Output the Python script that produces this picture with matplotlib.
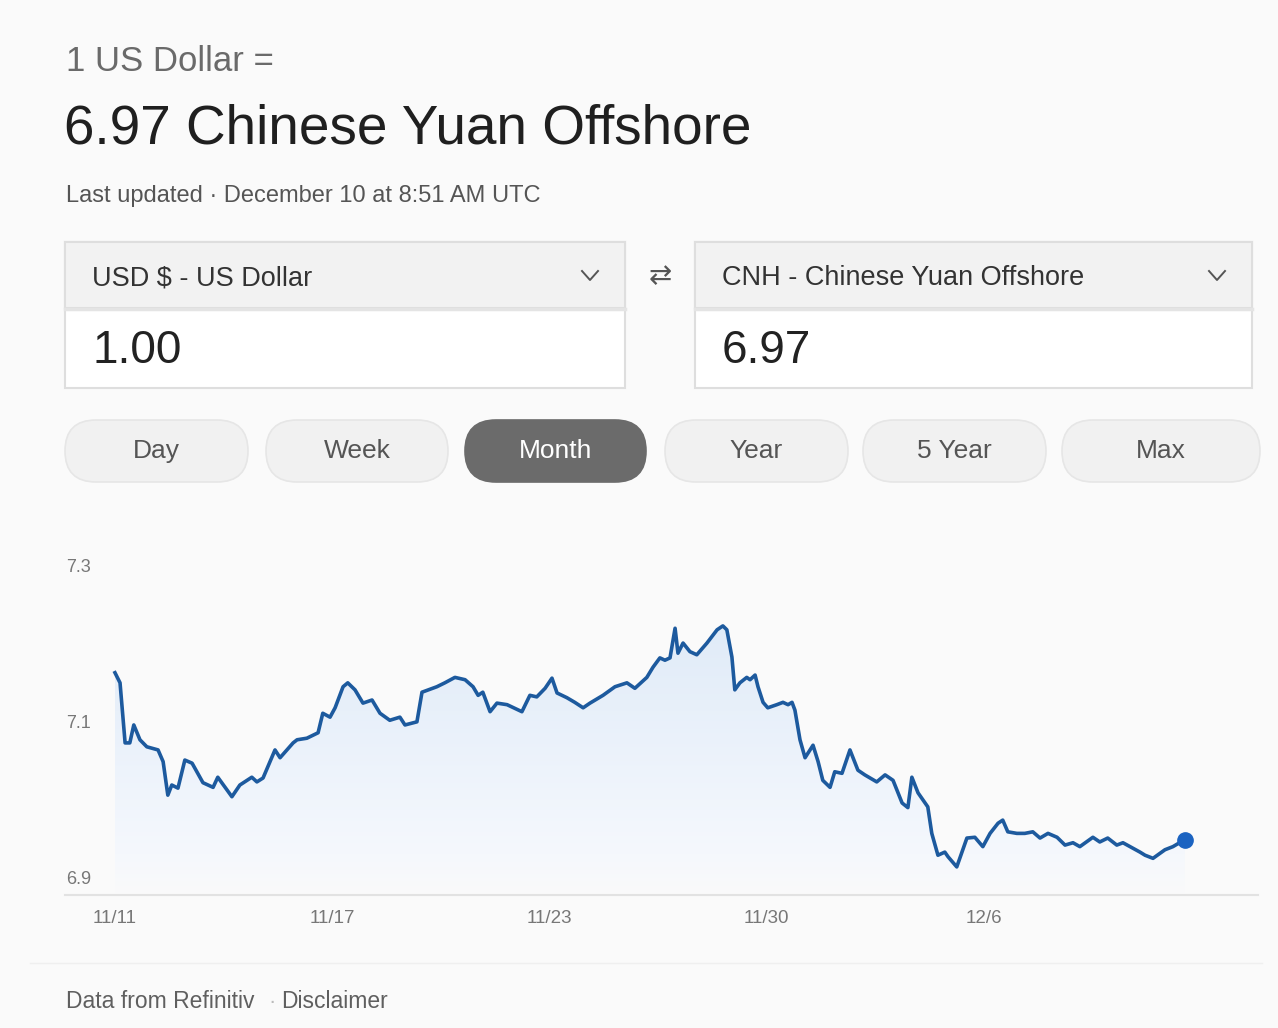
import numpy as np
import matplotlib.pyplot as plt
from matplotlib.patches import FancyBboxPatch, Rectangle
from matplotlib.colors import LinearSegmentedColormap
from matplotlib.transforms import ScaledTranslation

plt.rcParams['font.family'] = ['Liberation Sans', 'DejaVu Sans']

# ---- data (USD -> CNH, one month) ----
# x: days since 11/11 (chart squeezes weekends), y: rate
days = [0.00, 0.14, 0.28, 0.41, 0.52, 0.69, 0.88, 1.19, 1.33, 1.46,
        1.57, 1.74, 1.93, 2.13, 2.43, 2.71, 2.84, 3.23, 3.45, 3.78,
        3.92, 4.09, 4.42, 4.56, 4.92, 5.03, 5.30, 5.61, 5.74, 5.94,
        6.08, 6.30, 6.43, 6.63, 6.85, 7.10, 7.32, 7.59, 7.87, 8.01,
        8.34, 8.48, 8.89, 9.11, 9.39, 9.67, 9.89, 10.03, 10.16, 10.36,
        10.55, 10.83, 11.24, 11.46, 11.65, 11.88, 12.07, 12.21, 12.48, 12.70,
        12.93, 13.12, 13.48, 13.81, 14.14, 14.36, 14.69, 14.86, 15.05, 15.19,
        15.33, 15.47, 15.55, 15.69, 15.88, 16.07, 16.35, 16.63, 16.79, 16.90,
        17.04, 17.12, 17.26, 17.45, 17.54, 17.68, 17.76, 17.90, 18.03, 18.28,
        18.45, 18.59, 18.70, 18.78, 18.92, 19.06, 19.28, 19.42, 19.55, 19.75,
        19.88, 20.08, 20.30, 20.52, 20.71, 21.04, 21.27, 21.49, 21.74, 21.90,
        22.01, 22.18, 22.45, 22.56, 22.73, 22.92, 23.01, 23.25, 23.53, 23.75,
        23.97, 24.17, 24.39, 24.52, 24.66, 24.91, 25.13, 25.35, 25.55, 25.77,
        26.02, 26.24, 26.46, 26.65, 27.01, 27.20, 27.42, 27.67, 27.84, 28.31,
        28.45, 28.67, 29.00, 29.22, 29.55]
rates = [7.185, 7.172, 7.095, 7.095, 7.118, 7.099, 7.090, 7.086, 7.071, 7.028,
         7.041, 7.037, 7.073, 7.069, 7.044, 7.038, 7.051, 7.026, 7.041, 7.051,
         7.045, 7.050, 7.086, 7.076, 7.095, 7.099, 7.101, 7.108, 7.133, 7.128,
         7.140, 7.167, 7.172, 7.163, 7.146, 7.150, 7.133, 7.124, 7.128, 7.118,
         7.122, 7.160, 7.167, 7.172, 7.179, 7.176, 7.167, 7.156, 7.160, 7.135,
         7.146, 7.144, 7.135, 7.156, 7.154, 7.165, 7.178, 7.159, 7.153, 7.147,
         7.140, 7.146, 7.156, 7.167, 7.172, 7.165, 7.179, 7.192, 7.204, 7.201,
         7.204, 7.242, 7.210, 7.223, 7.212, 7.208, 7.223, 7.240, 7.245, 7.240,
         7.205, 7.163, 7.172, 7.179, 7.176, 7.182, 7.167, 7.147, 7.140, 7.144,
         7.147, 7.144, 7.147, 7.137, 7.099, 7.076, 7.092, 7.071, 7.047, 7.038,
         7.058, 7.056, 7.086, 7.060, 7.054, 7.045, 7.054, 7.047, 7.018, 7.012,
         7.051, 7.031, 7.013, 6.979, 6.951, 6.955, 6.949, 6.936, 6.973, 6.974,
         6.962, 6.979, 6.992, 6.996, 6.981, 6.979, 6.979, 6.981, 6.973, 6.979,
         6.974, 6.964, 6.967, 6.962, 6.974, 6.968, 6.973, 6.964, 6.967, 6.955,
         6.951, 6.947, 6.958, 6.962, 6.971]
tick_days = [0, 6, 12, 18, 24]
tick_labels = ['11/11', '11/17', '11/23', '11/30', '12/6']
y_ticks = [6.9, 7.1, 7.3]
ranges = ['Day', 'Week', 'Month', 'Year', '5 Year', 'Max']
active_range = 'Month'

W, H = 1278, 1028
BG = '#fafafa'
fig = plt.figure(figsize=(W / 100, H / 100), dpi=100)
fig.patch.set_facecolor(BG)

# pixel-space overlay for the widget chrome
ui = fig.add_axes([0, 0, 1, 1])
ui.set_xlim(0, W)
ui.set_ylim(H, 0)
ui.axis('off')

ui.text(66, 71, '1 US Dollar =', fontsize=25, color='#6a6a6a')
ui.text(64, 144, '6.97 Chinese Yuan Offshore', fontsize=39.5, color='#1f1f1f')
ui.text(66, 202, 'Last updated · December 10 at 8:51 AM UTC', fontsize=17, color='#555555')

# converter boxes
for x0, x1, head, val in [(65, 625, 'USD $ - US Dollar', '1.00'),
                          (695, 1252, 'CNH - Chinese Yuan Offshore', '6.97')]:
    ui.add_patch(Rectangle((x0, 242), x1 - x0, 146, facecolor='white',
                           edgecolor='#dedede', lw=1.5))
    ui.add_patch(Rectangle((x0, 242), x1 - x0, 66, facecolor='#f2f2f2',
                           edgecolor='#dedede', lw=1.5))
    ui.plot([x0, x1], [309, 309], color='#e4e4e4', lw=2.5)
    ui.text(x0 + 27, 285, head, fontsize=19.5, color='#333333')
    ui.text(x0 + 27, 363, val, fontsize=33, color='#222222')
    cx = x1 - 35
    ui.plot([cx - 8, cx, cx + 8], [271, 280, 271], color='#555555', lw=1.4)
ui.text(660, 276, '⇄', fontsize=20, color='#555555', ha='center', va='center',
        family='DejaVu Sans')

# range buttons
btn_x = [65, 266, 465, 665, 863, 1062]
btn_w = [183, 182, 181, 183, 183, 198]
for name, bx, bw in zip(ranges, btn_x, btn_w):
    active = name == active_range
    ui.add_patch(FancyBboxPatch((bx, 420), bw, 62,
                                boxstyle='round,pad=0,rounding_size=31',
                                facecolor='#6b6b6b' if active else '#f1f1f1',
                                edgecolor='#6b6b6b' if active else '#e6e6e6', lw=1.2))
    ui.text(bx + bw / 2, 458, name, fontsize=19, ha='center',
            color='white' if active else '#555555')

# footer
ui.plot([30, 1262], [963, 963], color='#efefef', lw=1)
ui.text(66, 1008, 'Data from Refinitiv', fontsize=16.5, color='#5f5f5f')
ui.text(268, 1008, '·', fontsize=16, color='#bbbbbb')
ui.text(281, 1008, 'Disclaimer', fontsize=16.5, color='#5f5f5f')

# ---- the line chart ----
ax = fig.add_axes([65 / W, 1 - 895 / H, (1258 - 65) / W, (895 - 583) / H])
ax.patch.set_alpha(0)

poly = ax.fill_between(days, rates, 6.9, facecolor='none', edgecolor='none')
cmap = LinearSegmentedColormap.from_list(
    'fade', [(0, BG), (0.15, '#f5f8fd'), (1, '#e0ebf8')])
grad = np.linspace(0, 1, 256).reshape(-1, 1)
im = ax.imshow(grad, extent=[days[0], days[-1], 6.9, 7.25], origin='lower',
               aspect='auto', cmap=cmap, zorder=1)
im.set_clip_path(poly.get_paths()[0], transform=ax.transData)

ax.plot(days, rates, color='#1d5a9e', lw=2.6, solid_joinstyle='round', zorder=3)
ax.plot(days[-1], rates[-1], 'o', ms=11, color='#1b63c1', zorder=4)

ax.set_xlim(-1.38, 31.57)
ax.set_ylim(6.9, 7.3)
for s in ['top', 'right', 'left']:
    ax.spines[s].set_visible(False)
ax.spines['bottom'].set_color('#e2e2e2')
ax.spines['bottom'].set_linewidth(1.5)

ax.set_xticks(tick_days, tick_labels)
ax.tick_params(axis='x', length=0, pad=11, labelsize=13.5, labelcolor='#777777')
ax.set_yticks(y_ticks, [f'{v:g}' for v in y_ticks])
ax.tick_params(axis='y', length=0, pad=0, labelsize=13, labelcolor='#777777')
shift = ScaledTranslation(0.01, 0.17, fig.dpi_scale_trans)
for lbl in ax.get_yticklabels():
    lbl.set_horizontalalignment('left')
    lbl.set_transform(lbl.get_transform() + shift)

fig.savefig('out.png', dpi=100, facecolor=BG)
